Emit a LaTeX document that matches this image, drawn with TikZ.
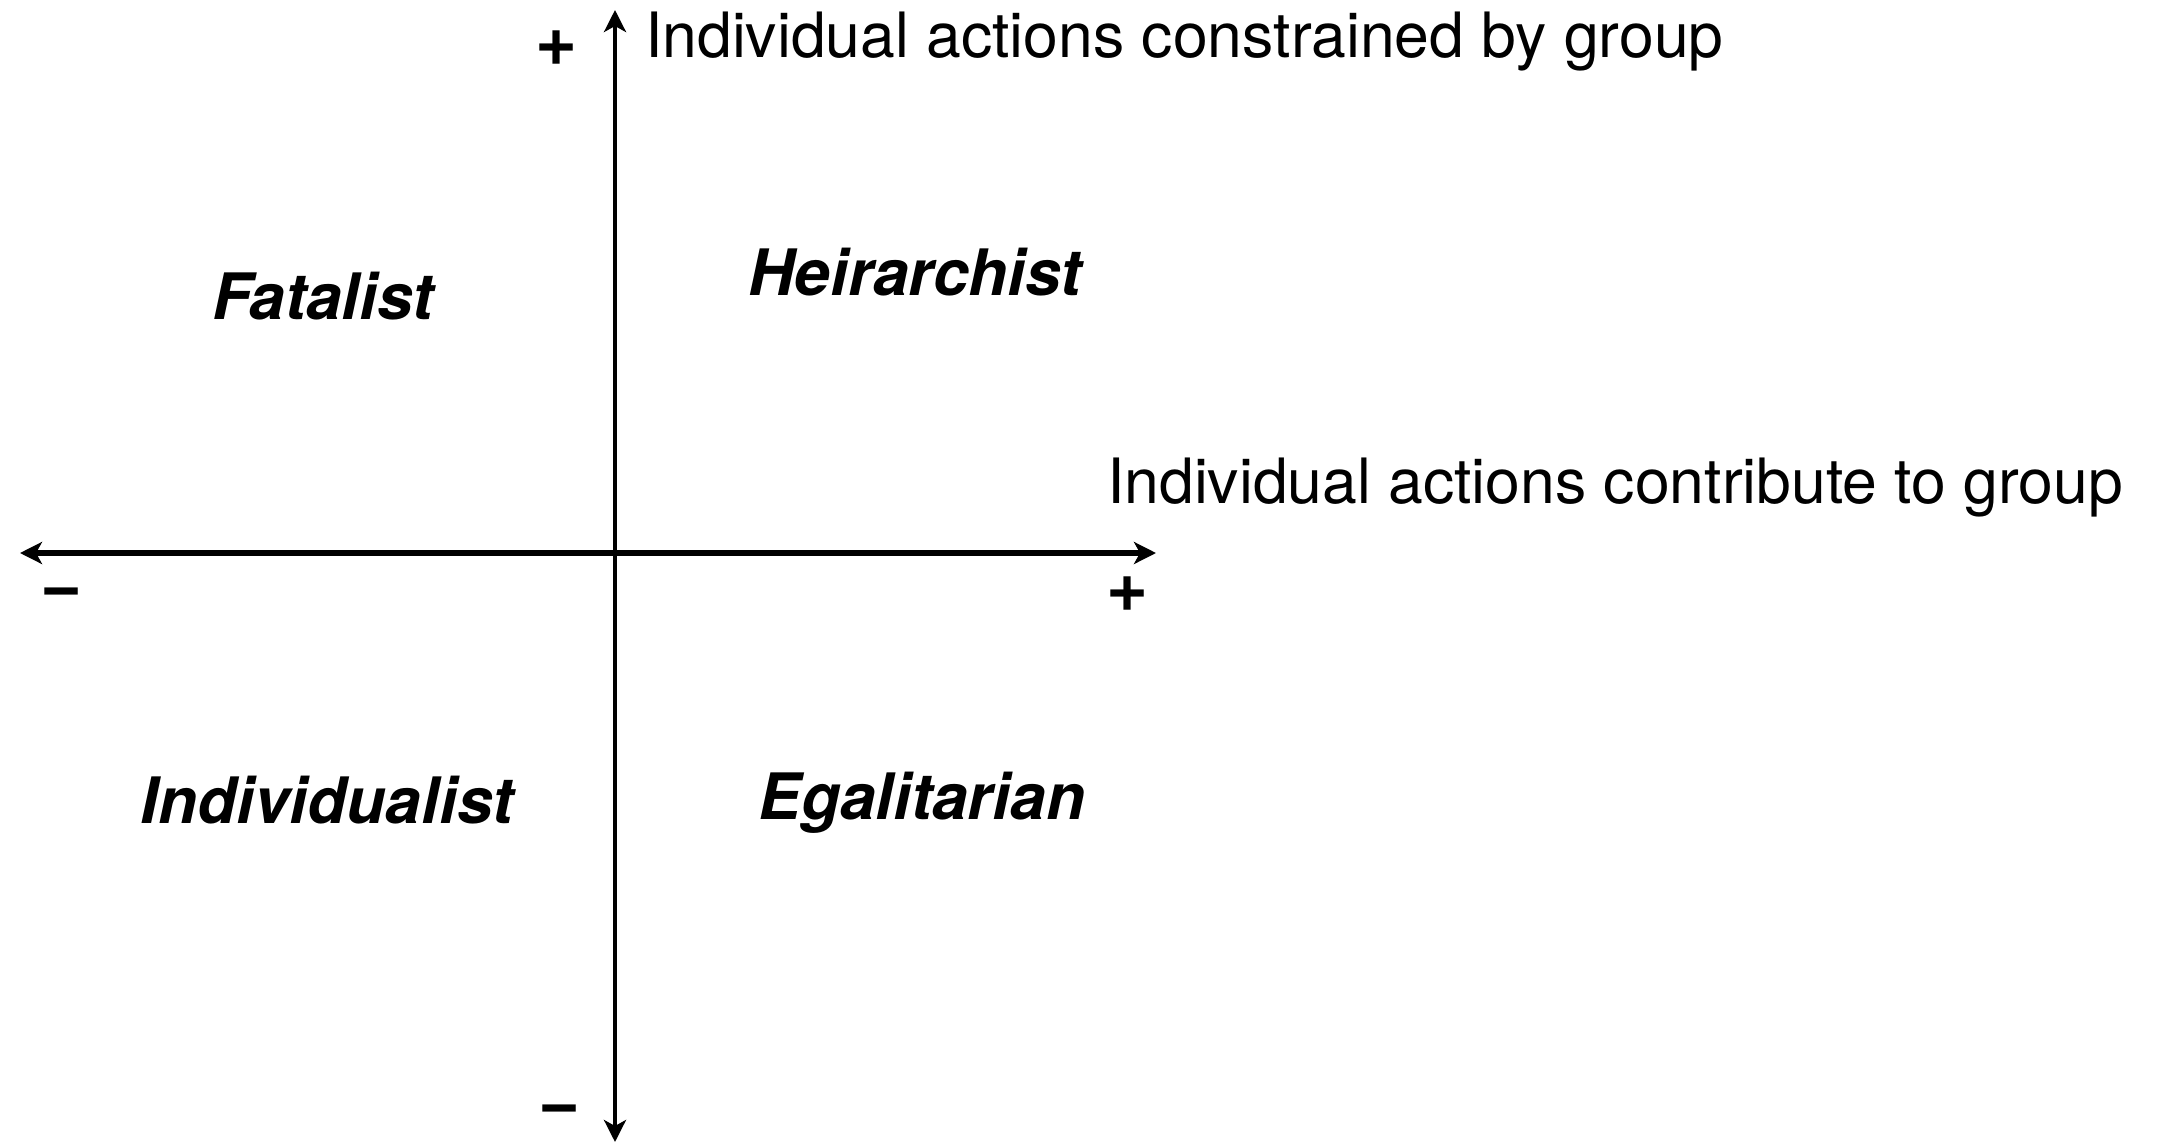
\documentclass[tikz,border=0pt]{standalone}
\usepackage{fontspec}
\setmainfont{TeX Gyre Heros}
\usetikzlibrary{arrows.meta}
\tikzset{
  axis/.style={line width=5.5pt, {Stealth[length=22pt,width=22pt,inset=6pt]}-{Stealth[length=22pt,width=22pt,inset=6pt]}},
  vaxis/.style={line width=4.5pt, {Stealth[length=22pt,width=22pt,inset=6pt]}-{Stealth[length=22pt,width=22pt,inset=6pt]}},
  quad/.style={font=\fontsize{64}{70}\selectfont\bfseries\itshape, inner sep=0pt},
  axlabel/.style={font=\fontsize{62.5}{68}\selectfont, inner sep=0pt, anchor=west},
  sign/.style={font=\fontsize{72}{76}\selectfont\bfseries, inner sep=0pt}
}
\begin{document}
\begin{tikzpicture}[x=1pt,y=-1pt]
\useasboundingbox (0,0) rectangle (2157,1143);
\coordinate (vt) at (615,10);
\coordinate (vb) at (615,1142);
\coordinate (hl) at (20,553);
\coordinate (hr) at (1156,553);
\draw[vaxis] (vb) -- (vt);
\draw[axis] (hl) -- (hr);
\node[axlabel] (ylab) at (645,42) {Individual actions constrained by group};
\node[axlabel] (xlab) at (1107,488) {Individual actions contribute to group};
\node[sign] (ptop) at (557,48) {+};
\node[sign] (mleft) at (62,599) {−};
\node[sign] (pright) at (1128,594) {+};
\node[sign] (mbot) at (560,1116) {−};
\node[quad] (fat) at (323,296) {Fatalist};
\node[quad] (hei) at (915,272) {Heirarchist};
\node[quad] (ind) at (327,800) {Individualist};
\node[quad] (ega) at (922,803) {Egalitarian};
\end{tikzpicture}
\end{document}
